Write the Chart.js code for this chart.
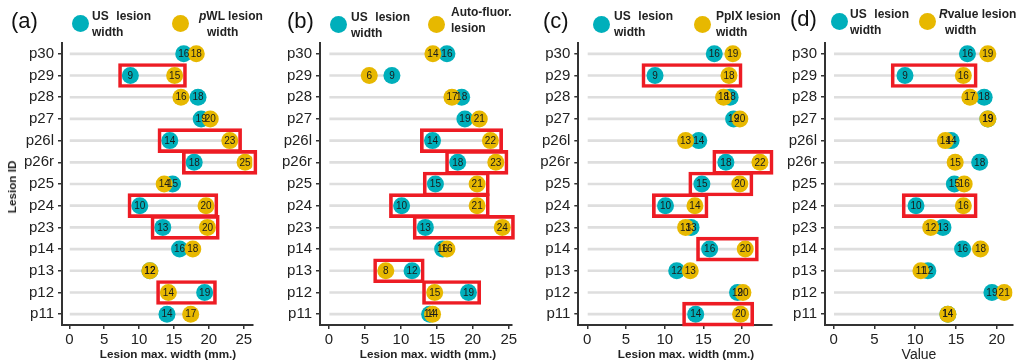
<!DOCTYPE html>
<html><head><meta charset="utf-8">
<script src="https://cdn.jsdelivr.net/npm/chart.js@4/dist/chart.umd.min.js"></script>
<style>
body{margin:0;background:#fff;width:1021px;height:364px;position:relative;overflow:hidden;font-family:"Liberation Sans",Arial,sans-serif;}
canvas{position:absolute;top:0;}
.t{position:absolute;white-space:nowrap;color:#222;}
.letter{font-size:22px;line-height:26px;color:#111;}
.lg{font-size:12px;font-weight:bold;line-height:16px;}
.us1{display:flex;justify-content:space-between;width:59px;}
.dot{position:absolute;width:17px;height:17px;border-radius:50%;}
.ax{font-size:11.7px;font-weight:bold;line-height:14px;transform:translateX(-50%);}
</style></head><body>
<canvas id="ca" width="262" height="364" style="left:0px"></canvas>
<canvas id="cb" width="258" height="364" style="left:262px"></canvas>
<canvas id="cc" width="260" height="364" style="left:520px"></canvas>
<canvas id="cd" width="241" height="364" style="left:780px"></canvas>

<!-- panel (a) -->
<div class="t letter" style="left:11px;top:8px">(a)</div>
<div class="dot" style="left:71.5px;top:15px;background:#00AFBB"></div>
<div class="t lg" style="left:92px;top:8px"><div class="us1"><span>US</span><span>lesion</span></div><div>width</div></div>
<div class="dot" style="left:171.5px;top:15px;background:#E7B800"></div>
<div class="t lg" style="left:199px;top:8px"><div><i>p</i>WL lesion</div><div style="margin-left:8px">width</div></div>
<div class="t ax" style="left:168px;top:347px">Lesion max. width (mm.)</div>
<div class="t ax" style="left:12px;top:187px;transform:translate(-50%,-50%) rotate(-90deg)">Lesion ID</div>

<!-- panel (b) -->
<div class="t letter" style="left:287px;top:8px">(b)</div>
<div class="dot" style="left:329.5px;top:15.5px;background:#00AFBB"></div>
<div class="t lg" style="left:351px;top:9px"><div class="us1"><span>US</span><span>lesion</span></div><div>width</div></div>
<div class="dot" style="left:427.5px;top:15.5px;background:#E7B800"></div>
<div class="t lg" style="left:451px;top:4px"><div>Auto-fluor.</div><div>lesion</div></div>
<div class="t ax" style="left:428px;top:347px">Lesion max. width (mm.)</div>

<!-- panel (c) -->
<div class="t letter" style="left:543px;top:8px">(c)</div>
<div class="dot" style="left:593px;top:15.5px;background:#00AFBB"></div>
<div class="t lg" style="left:614px;top:8px"><div class="us1"><span>US</span><span>lesion</span></div><div>width</div></div>
<div class="dot" style="left:694px;top:15.5px;background:#E7B800"></div>
<div class="t lg" style="left:716px;top:8px"><div>PpIX lesion</div><div>width</div></div>
<div class="t ax" style="left:686px;top:347px">Lesion max. width (mm.)</div>

<!-- panel (d) -->
<div class="t letter" style="left:790px;top:6px">(d)</div>
<div class="dot" style="left:830.5px;top:12.5px;background:#00AFBB"></div>
<div class="t lg" style="left:850px;top:6px"><div class="us1"><span>US</span><span>lesion</span></div><div>width</div></div>
<div class="dot" style="left:919px;top:12.5px;background:#E7B800"></div>
<div class="t lg" style="left:939px;top:6px"><div><i>R</i>value lesion</div><div style="margin-left:6px">width</div></div>
<div class="t" style="left:919px;top:346px;font-size:14px;line-height:17px;transform:translateX(-50%)">Value</div>

<script>
// ---- data ----
const lesionIds = ['p30','p29','p28','p27','p26l','p26r','p25','p24','p23','p14','p13','p12','p11'];
const usWidth        = [16.4, 8.75, 18.45, 18.9, 14.4, 17.9, 14.8, 10.1, 13.4, 15.8, 11.55, 19.4, 14.0];
const pwlWidth       = [18.2, 15.1, 16.0, 20.2, 23.0, 25.2, 13.6, 19.6, 19.8, 17.7, 11.55, 14.2, 17.4];
const autoFluorWidth = [14.45, 5.6, 17.1, 20.9, 22.45, 23.2, 20.6, 20.6, 24.1, 16.4, 7.9, 14.7, 14.4];
const ppixWidth      = [18.8, 18.3, 17.6, 19.7, 12.7, 22.3, 19.7, 13.9, 12.7, 20.4, 13.3, 20.1, 19.8];
const rValueWidth    = [18.9, 15.9, 16.7, 18.9, 13.7, 14.9, 16.0, 15.9, 11.9, 18.0, 10.7, 20.9, 14.0];
const xTickValues = [0, 5, 10, 15, 20, 25];
const boxedA = ['p29','p26l','p26r','p24','p23','p12'];
const boxedB = ['p26l','p26r','p25','p24','p23','p13','p12'];
const boxedC = ['p29','p26r','p25','p24','p14','p11'];
const boxedD = ['p29','p24'];

// ---- styling ----
const TEAL = '#00AFBB', GOLD = '#E7B800', RED = '#ED1C24', SEG = '#dedede', AXIS = '#333';
const BOX_PAD = 1.7;

const pointLabelPlugin = {
  id: 'pointLabels',
  afterDatasetsDraw(chart) {
    const ctx = chart.ctx;
    ctx.save();
    ctx.font = '10px "Liberation Sans", Arial, sans-serif';
    ctx.fillStyle = '#1a1a1a';
    ctx.textAlign = 'center';
    ctx.textBaseline = 'middle';
    chart.data.datasets.forEach((ds, di) => {
      if (!ds.valueLabels) return;
      const meta = chart.getDatasetMeta(di);
      meta.data.forEach((el, i) => {
        ctx.fillText(String(Math.round(ds.data[i].x)), el.x, el.y + 0.5);
      });
    });
    ctx.restore();
  }
};

function makePanel(id, other, boxed, cfg) {
  const segs = lesionIds.map((_, i) => [0, Math.max(usWidth[i], other[i])]);
  const boxes = lesionIds.map((lid, i) => boxed.includes(lid)
    ? [Math.min(usWidth[i], other[i]) - BOX_PAD, Math.max(usWidth[i], other[i]) + BOX_PAD] : null);
  const font = {family: '"Liberation Sans", Arial, sans-serif', size: 15};
  new Chart(document.getElementById(id), {
    type: 'bar',
    data: {
      labels: lesionIds,
      datasets: [
        {type: 'bar', data: segs, backgroundColor: SEG, barThickness: 2, grouped: false, order: 4},
        {type: 'scatter', data: lesionIds.map((lid, i) => ({x: usWidth[i], y: lid})),
          backgroundColor: TEAL, pointRadius: 8.5, pointBorderWidth: 0, order: 3, valueLabels: true},
        {type: 'scatter', data: lesionIds.map((lid, i) => ({x: other[i], y: lid})),
          backgroundColor: GOLD, pointRadius: 8.5, pointBorderWidth: 0, order: 2, valueLabels: true},
        {type: 'bar', data: boxes, backgroundColor: 'rgba(0,0,0,0)', borderColor: RED, borderWidth: 3,
          borderSkipped: false, barThickness: 24, grouped: false, clip: false, order: 1}
      ]
    },
    options: {
      responsive: false,
      animation: false,
      indexAxis: 'y',
      layout: {padding: {top: 43, left: 0, right: cfg.padRight, bottom: 0}},
      plugins: {legend: {display: false}, tooltip: {enabled: false}},
      scales: {
        x: {
          type: 'linear', min: cfg.xMin, max: cfg.xMax,
          afterBuildTicks: s => { s.ticks = xTickValues.filter(v => v <= cfg.xMax).map(v => ({value: v})); },
          afterFit: s => { s.height = 39; },
          border: {display: true, color: AXIS, width: 2},
          grid: {display: true, offset: false, drawOnChartArea: false, drawTicks: true, tickLength: 4, color: AXIS, lineWidth: 1.5},
          ticks: {font, color: '#222', padding: 2, maxRotation: 0, autoSkip: false}
        },
        y: {
          type: 'category', offset: true,
          afterFit: s => { s.width = cfg.yW; },
          border: {display: true, color: AXIS, width: 2},
          grid: {display: true, offset: false, drawOnChartArea: false, drawTicks: true, tickLength: 4, color: AXIS, lineWidth: 1.5},
          ticks: {font, color: '#222', padding: 4, autoSkip: false}
        }
      }
    },
    plugins: [pointLabelPlugin]
  });
}

makePanel('ca', pwlWidth, boxedA, {yW: 62, padRight: 9.7, xMin: -1.05, xMax: 26.23});
makePanel('cb', autoFluorWidth, boxedB, {yW: 58, padRight: 8.3, xMin: -1.25, xMax: 25.38});
makePanel('cc', ppixWidth, boxedC, {yW: 58.3, padRight: 8.3, xMin: -1.16, xMax: 23.79});
makePanel('cd', rValueWidth, boxedD, {yW: 45, padRight: 5, xMin: -1.05, xMax: 21.92});
</script>
</body></html>
